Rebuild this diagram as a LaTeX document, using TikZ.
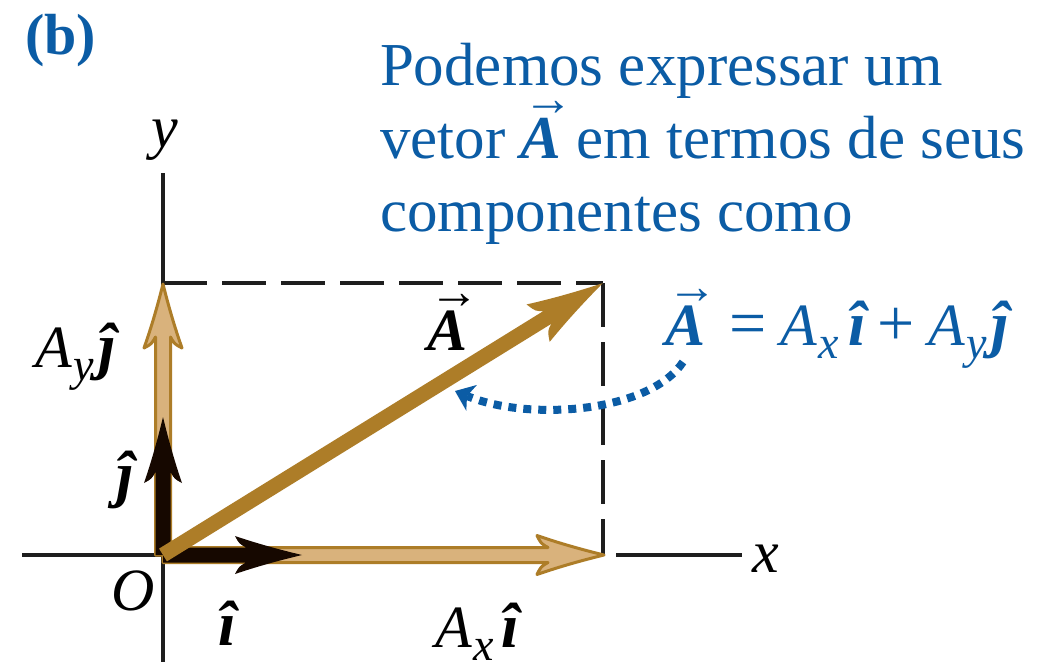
\documentclass[tikz,border=0pt]{standalone}
\usepackage{fontspec}
\setmainfont{Liberation Serif}
\usetikzlibrary{arrows.meta}
\definecolor{golddark}{HTML}{AD7D28}
\definecolor{goldlight}{HTML}{D9B27C}
\definecolor{bluetext}{HTML}{0B5CA5}
\definecolor{vecblack}{HTML}{160800}
\definecolor{axisgray}{HTML}{1E1E1E}
% arrow outline: #1 length, #2 head length, #3 head half width, #4 shaft half width
\newcommand\arrowpath[4]{(0,-#4) -- ({#1-#2+11},-#4) .. controls ({#1-#2+4},{-#4-4}) .. ({#1-#2},-#3) .. controls ({#1-2*#2/3},{-0.6*#3}) and ({#1-#2/3},{-0.28*#3}) .. (#1,0) .. controls ({#1-#2/3},{0.28*#3}) and ({#1-2*#2/3},{0.6*#3}) .. ({#1-#2},#3) .. controls ({#1-#2+4},{#4+4}) .. ({#1-#2+11},#4) -- (0,#4) -- cycle}
\newcommand\vecA{\leavevmode\setbox0\hbox{\bfseries\itshape A}%
  \rlap{\hbox to\wd0{\hskip0.35\wd0\hss\raisebox{\dimexpr\ht0+2pt\relax}{\fontsize{50}{50}\selectfont\mdseries\upshape →}\hss}}\box0}
\newcommand\sub[1]{\kern2pt\raisebox{-13pt}{\fontsize{46}{46}\selectfont #1}\kern4pt}
\newcommand\uvi{{\fontsize{63}{63}\selectfont\bfseries\itshape î}}
\newcommand\uvj{{\fontsize{63}{63}\selectfont\bfseries\itshape ĵ}}
\newcommand\bigop[1]{{\fontsize{66}{66}\selectfont #1}}
\begin{document}
\begin{tikzpicture}[x=1pt,y=-1pt,
  every node/.style={inner sep=0pt, outer sep=0pt},
  axis/.style={axisgray, line width=3.2pt},
  dashbox/.style={axisgray, line width=4pt, dash pattern=on 44pt off 15pt},
  goldout/.style={fill=goldlight, draw=golddark, line width=3pt, line join=round},
  blackvec/.style={fill=vecblack},
  goldvec/.style={fill=golddark},
  bluedots/.style={bluetext, line width=8pt, dash pattern=on 8pt off 7pt, -{Stealth[length=18pt, width=28pt, inset=5pt, line width=0pt]}},
  lbl/.style={font=\fontsize{60}{70}\selectfont, text=black},
  eqn/.style={font=\fontsize{60}{70}\selectfont, text=bluetext},
  para/.style={font=\fontsize{61}{73}\selectfont, text=bluetext},
  titl/.style={font=\fontsize{58}{70}\selectfont\bfseries, text=bluetext}]
\path[fill=white] (0,0) rectangle (1047,662);
\coordinate (O) at (163,555);
\coordinate (C) at (603,283);
\coordinate (Xl) at (22,555);
\coordinate (Xr) at (616,555);
\coordinate (Xe) at (742,555);
\coordinate (Yt) at (163,173);
\coordinate (Yb) at (163,662);
\coordinate (Dtl) at (163,283);
\coordinate (Dbr) at (603,555);
\coordinate (Ds) at (683,362);
\coordinate (Dt) at (455,391);
% axes
\draw[axis] (Yt) -- (Yb);
\draw[axis] (Xl) -- (O);
\draw[axis] (Xr) -- (Xe);
% dashed rectangle
\draw[dashbox] (Dtl) -- (C);
\draw[dashbox] (C) -- (Dbr);
% component vectors
\filldraw[goldout, shift={(O)}, rotate=90] \arrowpath{271}{64}{19}{7.5};
\filldraw[goldout, shift={(O)}] \arrowpath{441}{67}{19.5}{7.5};
% unit vectors
\fill[blackvec, shift={(O)}, rotate=90] \arrowpath{138}{66}{19}{7.5};
\fill[blackvec, shift={(O)}] \arrowpath{139}{67}{19}{7.5};
% vector A
\fill[goldvec, shift={(O)}, rotate=31.72] \arrowpath{517}{76}{22}{7.5};
% dotted pointer
\draw[bluedots] (Ds) .. controls (650,412) and (530,422) .. (Dt);
% labels
\node[titl, anchor=base west] (b) at (25,55) {(b)};
\node[para, anchor=base west] (p1) at (380,85) {Podemos expressar um};
\node[para, anchor=base west] (p2) at (380,158) {vetor \vecA{} em termos de seus};
\node[para, anchor=base west] (p3) at (380,231) {componentes como};
\node[lbl, anchor=base] (yl) at (165,147) {\textit{y}};
\node[lbl, anchor=base west] (xl) at (752,572) {\textit{x}};
\node[lbl, anchor=base] (ol) at (133,610) {\textit{O}};
\node[lbl, anchor=base] (jl) at (125,495) {\uvj};
\node[lbl, anchor=base] (il) at (227,645) {\uvi};
\node[lbl, anchor=base west] (ayl) at (35,367) {\textit{A\sub{y}}\uvj};
\node[lbl, anchor=base west] (axl) at (435,647) {\textit{A\sub{x}}\kern3pt\uvi};
\node[lbl, anchor=base west] (al) at (427,350) {\vecA};
\node[eqn, anchor=base west] (eq) at (665,345) {\vecA\hspace{24pt}\bigop{=}\hspace{14pt}\textit{A\sub{x}}\kern5pt\uvi\hspace{12pt}\bigop{+}\hspace{13pt}\textit{A\sub{y}}\uvj};
\end{tikzpicture}
\end{document}
